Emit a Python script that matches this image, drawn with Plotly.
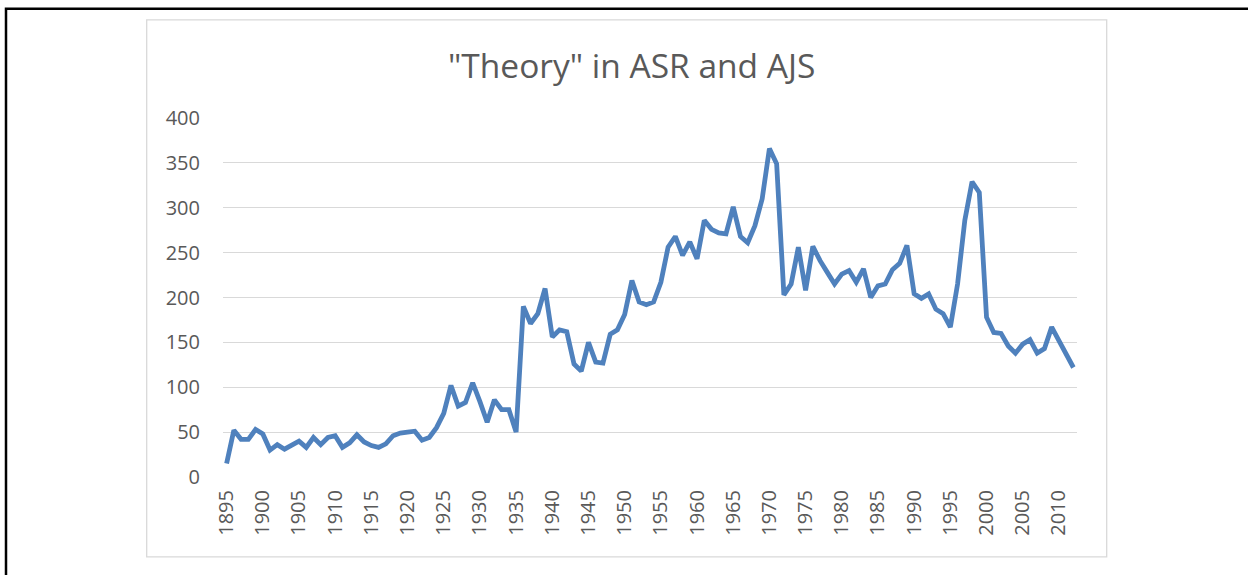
import plotly.graph_objects as go

years = list(range(1895, 2013))
values = [
    15, 52, 42, 42, 53, 48, 30, 36, 31, 36,   # 1895-1904
    40, 33, 44, 36, 44, 46, 33, 38, 47, 39,   # 1905-1914
    35, 33, 37, 46, 49, 50, 51, 41, 44, 55,   # 1915-1924
    71, 102, 79, 83, 105, 84, 61, 86, 75, 75, # 1925-1934
    50, 190, 171, 182, 210, 156, 164, 162, 126, 118,  # 1935-1944
    150, 128, 127, 159, 164, 181, 219, 195, 192, 195,  # 1945-1954
    217, 256, 268, 247, 262, 243, 286, 276, 272, 271,  # 1955-1964
    301, 268, 261, 280, 310, 366, 349, 203, 215, 256,  # 1965-1974
    208, 257, 241, 228, 215, 226, 230, 217, 232, 200,  # 1975-1984
    213, 215, 231, 238, 258, 204, 199, 204, 187, 182,  # 1985-1994
    167, 215, 286, 329, 317, 178, 161, 160, 146, 138,  # 1995-2004
    148, 153, 138, 143, 167, 152, 138, 122,            # 2005-2012
]
tick_years = list(range(1895, 2011, 5))
y_ticks = [0, 50, 100, 150, 200, 250, 300, 350, 400]
title_text = '"Theory" in ASR and AJS'

W, H = 1248, 575
L, R, T, B = 223, 1077, 117.5, 477
pw, ph = R - L, B - T

def px(x):
    return (x - L) / pw

def py(y):
    return (B - y) / ph

FONT = "Open Sans"
GRAY = "#595959"

fig = go.Figure()
fig.add_trace(go.Scatter(
    x=years, y=values, mode="lines",
    line=dict(color="#4F81BD", width=4.8),
    showlegend=False, hoverinfo="x+y",
))

fig.update_layout(
    width=W, height=H,
    margin=dict(l=L, r=W - R, t=T, b=H - B, pad=0),
    paper_bgcolor="white", plot_bgcolor="white",
    font=dict(family=FONT, color=GRAY, size=20),
    xaxis=dict(
        range=[1894.5, 2012.5], tickmode="array", tickvals=tick_years,
        ticktext=[str(t) for t in tick_years], tickangle=-90,
        showgrid=False, zeroline=False, showline=False, ticks="",
        ticklabelstandoff=8,
        tickfont=dict(family=FONT, size=20, color=GRAY),
    ),
    yaxis=dict(
        range=[0, 400], tickmode="array", tickvals=y_ticks,
        showgrid=True, gridcolor="#D9D9D9", gridwidth=1.3,
        zeroline=False, showline=False, ticks="",
        ticklabelstandoff=22,
        tickfont=dict(family=FONT, size=20, color=GRAY),
    ),
    shapes=[
        dict(type="rect", xref="paper", yref="paper",
             x0=px(146.7), x1=px(1106.7), y0=py(557), y1=py(19.3),
             line=dict(color="#D9D9D9", width=1.3), layer="below"),
        dict(type="rect", xref="paper", yref="paper",
             x0=px(6), x1=px(1262), y0=py(590), y1=py(8),
             line=dict(color="black", width=2.5), layer="above"),
    ],
    annotations=[
        dict(text=title_text, xref="paper", yref="paper",
             x=px(631), y=py(64), xanchor="center", yanchor="middle",
             showarrow=False, font=dict(family=FONT, size=33.5, color=GRAY)),
    ],
)

fig.write_html("out.html",
               config={"displayModeBar": False},
               post_script="document.body.style.margin='0';document.body.style.padding='0';")
